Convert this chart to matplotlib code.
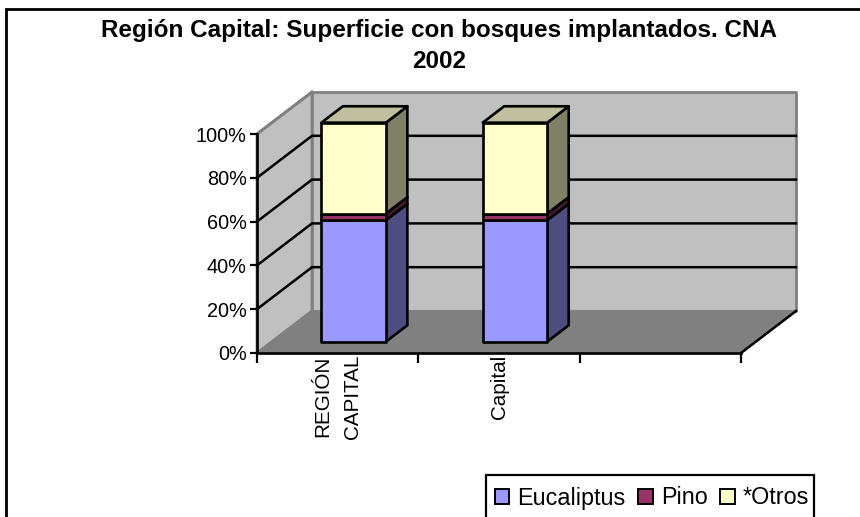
import matplotlib
matplotlib.use("Agg")
from matplotlib import pyplot as plt
from matplotlib.patches import Patch, Polygon, Rectangle

plt.rcParams['font.family'] = ['Liberation Sans', 'DejaVu Sans']

title = "Región Capital: Superficie con bosques implantados. CNA\n2002"
categories = ["REGIÓN\nCAPITAL", "Capital", ""]
series_names = ["Eucaliptus", "Pino", "*Otros"]
eucaliptus = [55.5, 55.5]
pino = [3.0, 3.0]
otros = [41.5, 41.5]
yticks = [0, 20, 40, 60, 80, 100]

front_cols = ["#9999ff", "#993366", "#ffffcc"]
side_cols = ["#4d4d80", "#4d1a33", "#808066"]
top_col = "#c0c0a0"

W, H = 860, 517
fig = plt.figure(figsize=(W / 100, H / 100), dpi=100, facecolor="white")
# front plane of the 3D box, in pixels
ax = fig.add_axes([257 / W, 1 - 353 / H, 484 / W, 219 / H])
ax.set_xlim(0, 3)
ax.set_ylim(0, 100)
ax.patch.set_visible(False)

# shear for the fake depth, in data units per full depth
DX = 55 / 484 * 3
DY = 42 / 219 * 100


def pt(x, y, d=0.0):
    return (x + d * DX, y + d * DY)


def poly(points, color, edge="black", lw=1.9, z=2):
    ax.add_patch(Polygon(points, closed=True, facecolor=color, edgecolor=edge,
                         linewidth=lw, clip_on=False, zorder=z, joinstyle="round"))


# walls and floor
poly([pt(0, 0), pt(0, 100), pt(0, 100, 1), pt(0, 0, 1)], "#c0c0c0", edge="#808080", lw=2, z=1)
poly([pt(0, 0, 1), pt(0, 100, 1), pt(3, 100, 1), pt(3, 0, 1)], "#c0c0c0", edge="#808080", lw=2, z=1)
poly([pt(0, 0), pt(3, 0), pt(3, 0, 1), pt(0, 0, 1)], "#808080", edge="#808080", lw=1.5, z=1)

# grid on side wall and back wall
for v in yticks[1:-1]:
    ax.plot(*zip(pt(0, v), pt(0, v, 1), pt(3, v, 1)), color="black", lw=1.8, clip_on=False, zorder=1.5)
ax.plot(*zip(pt(3, 0), pt(3, 0, 1)), color="black", lw=1.8, clip_on=False, zorder=1.5)
ax.plot(*zip(pt(0, 100), pt(0, 100, 1)), color="#808080", lw=2, clip_on=False, zorder=1.5)

# stacked bars
bar_w = 0.4
d0, d1 = 0.27, 0.66
for i in range(len(eucaliptus)):
    left = i + 0.507 - bar_w / 2
    right = left + bar_w
    base = 0
    for vals, fc, sc in zip([eucaliptus, pino, otros], front_cols, side_cols):
        top = base + vals[i]
        poly([pt(right, base, d0), pt(right, top, d0), pt(right, top, d1), pt(right, base, d1)], sc, z=3)
        poly([pt(left, base, d0), pt(right, base, d0), pt(right, top, d0), pt(left, top, d0)], fc, z=4)
        base = top
    poly([pt(left, base, d0), pt(right, base, d0), pt(right, base, d1), pt(left, base, d1)], top_col, z=3)

# real axes for ticks and labels
for s in ["top", "right"]:
    ax.spines[s].set_visible(False)
for s in ["left", "bottom"]:
    ax.spines[s].set_linewidth(1.9)
    ax.spines[s].set_zorder(6)
ax.set_yticks(yticks)
ax.set_yticklabels([str(v) + "%" for v in yticks], fontsize=14.3)
ax.set_xticks([0, 1, 2, 3])
ax.set_xticklabels([])
ax.set_xticks([0.5, 1.5, 2.5], minor=True)
ax.set_xticklabels(categories, minor=True, rotation=90, fontsize=14.9, ha="center", va="top", linespacing=1.66)
ax.tick_params(axis="y", which="major", length=5, width=1.6, pad=2.3)
ax.tick_params(axis="x", which="major", length=7, width=1.6)
ax.tick_params(axis="x", which="minor", length=0, pad=1)

fig.text(439 / W, 1 - 30 / H, title.split("\n")[0], fontsize=17.5, fontweight="bold", ha="center", va="center")
fig.text(439 / W, 1 - 62 / H, title.split("\n")[1], fontsize=17.5, fontweight="bold", ha="center", va="center")

# chart frame, runs off the bottom of the picture
fig.add_artist(Rectangle((5.5 / W, -0.05), (W - 2) / W, 1.05 - 8.5 / H, transform=fig.transFigure,
                         facecolor="none", edgecolor="black", linewidth=2))

# legend box also runs off the bottom
fig.add_artist(Rectangle((486 / W, -0.05), 328 / W, 0.05 + 1 - 475 / H, transform=fig.transFigure,
                         facecolor="white", edgecolor="black", linewidth=1.6))
handles = [Patch(facecolor=c, edgecolor="black", linewidth=1.4) for c in front_cols]
leg = fig.legend(handles, series_names, ncol=3, loc="center", bbox_to_anchor=(652 / W, 1 - 498 / H),
                 fontsize=16.8, frameon=False,
                 handlelength=0.62, handleheight=0.62, handletextpad=0.35, columnspacing=0.55,
                 borderpad=0.55, borderaxespad=0)

plt.savefig("out.png", dpi=100)
